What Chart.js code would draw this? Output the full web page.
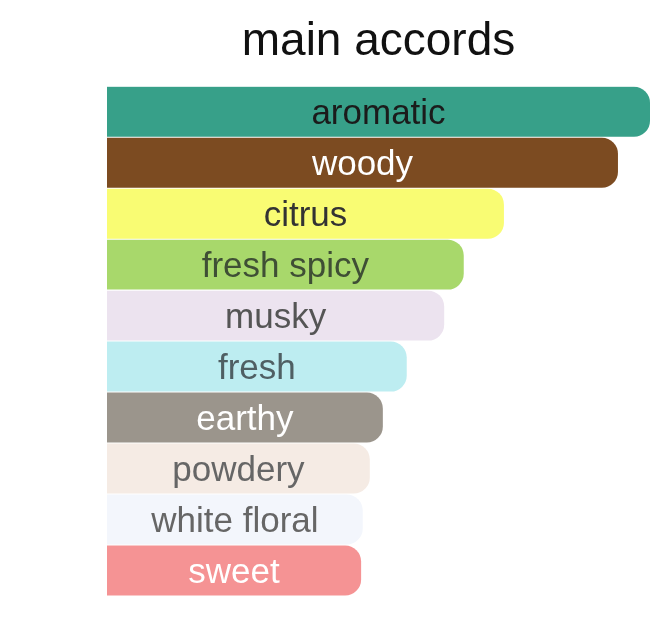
<!DOCTYPE html>
<html>
<head>
<meta charset="utf-8">
<script src="https://cdn.jsdelivr.net/npm/chart.js@4/dist/chart.umd.min.js"></script>
<style>
  html, body { margin: 0; padding: 0; background: #fff; }
  #wrap { width: 670px; height: 617px; }
</style>
</head>
<body>
<div id="wrap"><canvas id="accordsChart"></canvas></div>
<script>
const accords = ['aromatic', 'woody', 'citrus', 'fresh spicy', 'musky', 'fresh', 'earthy', 'powdery', 'white floral', 'sweet'];
const strength = [100, 94.1, 73.1, 65.7, 62.1, 55.2, 50.8, 48.4, 47.1, 46.8];

const barColors = ['#37a089', '#7c4b21', '#f9fc73', '#a8d86b', '#ece3ef', '#bdedf1', '#9b958c', '#f5ebe4', '#f3f6fc', '#f59394'];
const textColors = ['#1b1b1b', '#ffffff', '#333333', '#3f4f35', '#555555', '#4f5f63', '#ffffff', '#666666', '#666666', '#ffffff'];

// draw the accord name in the middle of each bar
const barLabels = {
    id: 'barLabels',
    afterDatasetsDraw(chart) {
        const ctx = chart.ctx;
        const meta = chart.getDatasetMeta(0);
        ctx.save();
        ctx.font = '35px "Liberation Sans", Arial, sans-serif';
        ctx.textAlign = 'center';
        ctx.textBaseline = 'middle';
        meta.data.forEach((bar, i) => {
            const { x, y, base } = bar.getProps(['x', 'y', 'base'], true);
            ctx.fillStyle = textColors[i];
            ctx.fillText(accords[i], (x + base) / 2, y + 3);
        });
        ctx.restore();
    }
};

const ctx = document.getElementById('accordsChart').getContext('2d');
new Chart(ctx, {
    type: 'bar',
    data: {
        labels: accords,
        datasets: [{
            data: strength,
            backgroundColor: barColors,
            borderRadius: 16,
            categoryPercentage: 1,
            barPercentage: 0.98
        }]
    },
    options: {
        indexAxis: 'y',
        responsive: true,
        maintainAspectRatio: false,
        animation: false,
        layout: { padding: { left: 107, right: 20, top: 0, bottom: 21 } },
        scales: {
            x: { display: false, min: 0, max: 100 },
            y: { display: false }
        },
        plugins: {
            legend: { display: false },
            tooltip: { enabled: false },
            title: {
                display: true,
                text: 'main accords',
                color: '#111',
                font: { family: '"Liberation Sans", Arial, sans-serif', size: 46, weight: 'normal' },
                padding: { top: 15, bottom: 16 }
            }
        }
    },
    plugins: [barLabels]
});
</script>
</body>
</html>
